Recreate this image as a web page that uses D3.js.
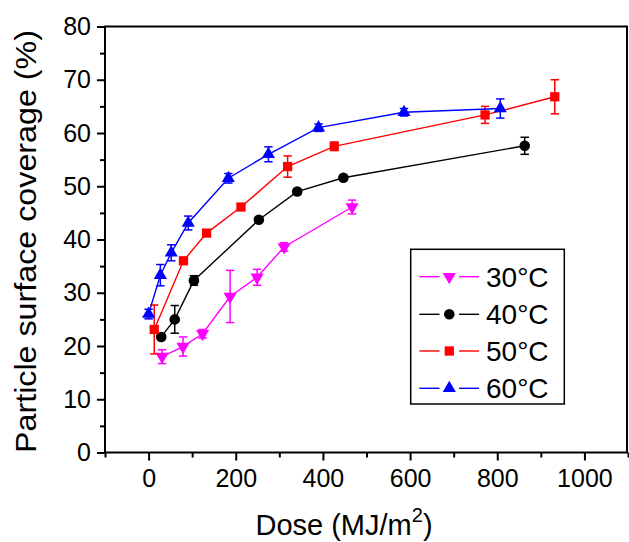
<!DOCTYPE html>
<html>
<head>
<meta charset="utf-8">
<script src="https://cdn.jsdelivr.net/npm/d3@7"></script>
<style>
  html, body { margin: 0; padding: 0; background: #fff; }
  svg { display: block; }
  text { font-family: "Liberation Sans", Arial, Helvetica, sans-serif; fill: #000; }
</style>
</head>
<body>
<svg id="chart" width="629" height="542"></svg>
<script>
// Particle surface coverage vs. dose, four temperatures
const seriesNames = ["30°C", "40°C", "50°C", "60°C"];
const seriesColors = ["#ff00ff", "#000000", "#ff0000", "#0000ff"];
const seriesSymbols = ["triangleDown", "circle", "square", "triangle"];

const dose30 = [31, 79, 124, 187, 249, 311, 467];
const cov30  = [18.0, 19.9, 22.3, 29.3, 32.9, 38.6, 46.1];
const err30  = [1.3, 1.8, 0.8, 4.9, 1.5, 0.8, 1.3];

const dose40 = [29, 60, 104, 253, 341, 447, 863];
const cov40  = [21.7, 25.0, 32.3, 43.7, 49.0, 51.6, 57.6];
const err40  = [0.5, 2.6, 0.9, 0.4, 0.4, 0.4, 1.6];

const dose50 = [13, 80, 133, 212, 319, 426, 772, 932];
const cov50  = [23.1, 36.0, 41.2, 46.1, 53.7, 57.5, 63.4, 66.8];
const err50  = [4.6, 0.5, 0.4, 0.4, 2.0, 0.8, 1.6, 3.2];

const dose60 = [0, 27, 52, 91, 183, 275, 390, 586, 807];
const cov60  = [26.0, 33.3, 37.5, 43.1, 51.5, 56.0, 61.0, 63.9, 64.6];
const err60  = [0.9, 2.0, 1.5, 1.3, 0.9, 1.4, 0.7, 0.7, 1.8];

const xMajorTicks = [0, 200, 400, 600, 800, 1000];
const yMajorTicks = [0, 10, 20, 30, 40, 50, 60, 70, 80];

const doses = [dose30, dose40, dose50, dose60];
const covs = [cov30, cov40, cov50, cov60];
const errs = [err30, err40, err50, err60];

const svg = d3.select("#chart");
const plot = { left: 105, right: 628, top: 26.5, bottom: 452.5 };

const x = d3.scaleLinear().domain([-100, 1100]).range([plot.left, plot.right]);
const y = d3.scaleLinear().domain([0, 80]).range([plot.bottom, plot.top]);

const xMinorTicks = d3.range(-100, 1101, 100).filter(v => !xMajorTicks.includes(v));
const yMinorTicks = d3.range(5, 80, 10);

// Axes: ticks point outward on the left and bottom
const axisLayer = svg.append("g");

function styleTicks(g) {
  g.select(".domain").remove();
  g.selectAll(".tick line").attr("stroke", "#000").attr("stroke-width", 2);
}

axisLayer.append("g")
  .attr("transform", `translate(${plot.left},0)`)
  .call(d3.axisLeft(y).tickValues(yMajorTicks).tickSize(8).tickPadding(6).tickFormat(d3.format("d")))
  .call(styleTicks)
  .call(g => g.selectAll(".tick text")
    .attr("font-size", 25)
    .attr("font-family", "Liberation Sans, Arial, sans-serif")
    .attr("fill", "#000"));

axisLayer.append("g")
  .attr("transform", `translate(${plot.left},0)`)
  .call(d3.axisLeft(y).tickValues(yMinorTicks).tickSize(5).tickFormat(""))
  .call(styleTicks);

axisLayer.append("g")
  .attr("transform", `translate(0,${plot.bottom})`)
  .call(d3.axisBottom(x).tickValues(xMajorTicks).tickSize(8).tickPadding(9).tickFormat(d3.format("d")))
  .call(styleTicks)
  .call(g => g.selectAll(".tick text")
    .attr("font-size", 25)
    .attr("font-family", "Liberation Sans, Arial, sans-serif")
    .attr("fill", "#000"));

axisLayer.append("g")
  .attr("transform", `translate(0,${plot.bottom})`)
  .call(d3.axisBottom(x).tickValues(xMinorTicks).tickSize(5).tickFormat(""))
  .call(styleTicks);

// Plot frame
svg.append("rect")
  .attr("x", plot.left).attr("y", plot.top)
  .attr("width", plot.right - plot.left - 1).attr("height", plot.bottom - plot.top)
  .attr("fill", "none").attr("stroke", "#000").attr("stroke-width", 2);

// Axis titles
svg.append("text")
  .attr("transform", `translate(36,241.5) rotate(-90)`)
  .attr("text-anchor", "middle")
  .attr("font-size", 29)
  .attr("textLength", 423)
  .attr("lengthAdjust", "spacingAndGlyphs")
  .text("Particle surface coverage (%)");

const xTitle = svg.append("text")
  .attr("x", 344).attr("y", 535)
  .attr("text-anchor", "middle")
  .attr("font-size", 29);
xTitle.append("tspan").text("Dose (MJ/m");
xTitle.append("tspan").attr("dy", -13).attr("font-size", 20).text("2");
xTitle.append("tspan").attr("dy", 13).text(")");

// Marker shapes
const symbolMap = {
  triangleDown: { type: d3.symbolTriangle, size: 75, rotate: 180 },
  circle: { type: d3.symbolCircle, size: 88, rotate: 0 },
  square: { type: d3.symbolSquare, size: 86, rotate: 0 },
  triangle: { type: d3.symbolTriangle, size: 75, rotate: 0 }
};

function symbolPath(name) {
  const s = symbolMap[name];
  return d3.symbol().type(s.type).size(s.size)();
}

const line = d3.line().x(d => x(d.dose)).y(d => y(d.cov));
const capHalf = 4.2;

seriesNames.forEach((name, i) => {
  const color = seriesColors[i];
  const pts = doses[i].map((d, j) => ({ dose: d, cov: covs[i][j], err: errs[i][j] }));
  const g = svg.append("g");

  g.append("path")
    .datum(pts)
    .attr("d", line)
    .attr("fill", "none")
    .attr("stroke", color)
    .attr("stroke-width", 1.4);

  // Error bars with caps
  const eb = g.selectAll(".eb").data(pts).enter().append("g");
  eb.append("line")
    .attr("x1", d => x(d.dose)).attr("x2", d => x(d.dose))
    .attr("y1", d => y(d.cov + d.err)).attr("y2", d => y(d.cov - d.err))
    .attr("stroke", color).attr("stroke-width", 1.5);
  eb.append("line")
    .attr("x1", d => x(d.dose) - capHalf).attr("x2", d => x(d.dose) + capHalf)
    .attr("y1", d => y(d.cov + d.err)).attr("y2", d => y(d.cov + d.err))
    .attr("stroke", color).attr("stroke-width", 1.5);
  eb.append("line")
    .attr("x1", d => x(d.dose) - capHalf).attr("x2", d => x(d.dose) + capHalf)
    .attr("y1", d => y(d.cov - d.err)).attr("y2", d => y(d.cov - d.err))
    .attr("stroke", color).attr("stroke-width", 1.5);

  const sym = seriesSymbols[i];
  g.selectAll(".pt").data(pts).enter().append("path")
    .attr("d", symbolPath(sym))
    .attr("transform", d => `translate(${x(d.dose)},${y(d.cov)}) rotate(${symbolMap[sym].rotate})`)
    .attr("fill", color);
});

// Legend
const legend = svg.append("g");
legend.append("rect")
  .attr("x", 410.7).attr("y", 249.3)
  .attr("width", 153.6).attr("height", 154.7)
  .attr("fill", "#fff").attr("stroke", "#000").attr("stroke-width", 1.5);

const legendRowY = [276.7, 314.3, 351, 388.3];
seriesNames.forEach((name, i) => {
  const row = legend.append("g").attr("transform", `translate(0,${legendRowY[i]})`);
  const color = seriesColors[i];
  row.append("line").attr("x1", 419.3).attr("x2", 439.5).attr("y1", 0).attr("y2", 0)
    .attr("stroke", color).attr("stroke-width", 1.4);
  row.append("line").attr("x1", 459).attr("x2", 479).attr("y1", 0).attr("y2", 0)
    .attr("stroke", color).attr("stroke-width", 1.4);
  const sym = seriesSymbols[i];
  row.append("path")
    .attr("d", symbolPath(sym))
    .attr("transform", `translate(449.3,0) rotate(${symbolMap[sym].rotate})`)
    .attr("fill", color);
  row.append("text")
    .attr("x", 486).attr("y", 10)
    .attr("font-size", 28)
    .text(name);
});
</script>
</body>
</html>
